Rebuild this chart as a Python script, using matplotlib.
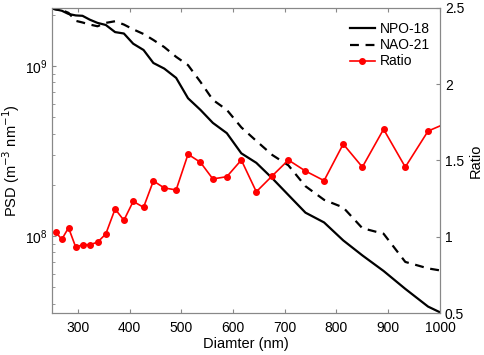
import matplotlib
matplotlib.use("Agg")
import matplotlib.pyplot as plt

plt.rcParams["font.family"] = ["Liberation Sans", "DejaVu Sans"]

# particle diameter bins (nm)
diameter = [245.5, 257, 269, 282, 296, 309, 323, 338, 354, 372, 389, 407, 427, 446,
            467, 490, 513, 537, 561, 588, 616, 645, 676, 707, 740, 776, 813, 850,
            891, 933, 977, 1023]

npo18 = [2.19e9, 2.15e9, 2.11e9, 2.02e9, 1.98e9, 1.97e9, 1.87e9, 1.79e9, 1.74e9,
         1.58e9, 1.55e9, 1.35e9, 1.24e9, 1.04e9, 9.64e8, 8.50e8, 6.45e8, 5.51e8,
         4.62e8, 4.02e8, 3.06e8, 2.69e8, 2.18e8, 1.74e8, 1.37e8, 1.20e8, 9.41e7,
         7.68e7, 6.22e7, 4.88e7, 3.84e7, 3.29e7]

nao21 = [2.19e9, 2.15e9, 2.13e9, 2.05e9, 1.84e9, 1.80e9, 1.75e9, 1.71e9, 1.79e9,
         1.83e9, 1.75e9, 1.64e9, 1.54e9, 1.42e9, 1.29e9, 1.13e9, 1.01e9, 8.05e8,
         6.31e8, 5.51e8, 4.35e8, 3.62e8, 2.99e8, 2.60e8, 1.96e8, 1.63e8, 1.47e8,
         1.11e8, 1.03e8, 7.03e7, 6.44e7, 6.10e7]

ratio_d = diameter[1:]
ratio = [1.031, 0.983, 1.059, 0.931, 0.948, 0.948, 0.964, 1.018, 1.182, 1.108,
         1.232, 1.193, 1.366, 1.320, 1.307, 1.541, 1.488, 1.379, 1.394, 1.503,
         1.295, 1.400, 1.503, 1.431, 1.368, 1.608, 1.457, 1.705, 1.457, 1.693, 1.76]

fig = plt.figure(figsize=(4.84, 3.55), dpi=100)
ax = fig.add_axes([0.1074, 0.1183, 0.8016, 0.8592])
ax2 = ax.twinx()

l1, = ax.plot(diameter, npo18, color="black", linewidth=1.6, label="NPO-18")
l2, = ax.plot(diameter, nao21, color="black", linewidth=1.6, linestyle=(0, (4, 3)),
              label="NAO-21")
l3, = ax2.plot(ratio_d, ratio, color="red", linewidth=1.2, marker="o", markersize=4,
               label="Ratio")

ax.set_yscale("log")
ax.set_xlim(250, 1000)
ax.set_ylim(3.52e7, 2.19e9)
ax2.set_ylim(0.5, 2.5)
ax2.set_yticks([0.5, 1, 1.5, 2, 2.5])
ax2.set_yticklabels(["0.5", "1", "1.5", "2", "2.5"])
ax.set_xticks([300, 400, 500, 600, 700, 800, 900, 1000])

for a in (ax, ax2):
    a.tick_params(direction="in", which="both", labelsize=10, color="#888888",
                  length=3)
    a.tick_params(which="minor", length=2)
    for s in a.spines.values():
        s.set_color("#888888")
        s.set_linewidth(0.8)
ax.tick_params(top=True, which="both")
ax.tick_params(axis="x", pad=6)

ax.set_xlabel("Diamter (nm)", fontsize=10.5, labelpad=1)
ax.set_ylabel("PSD (m$^{-3}$ nm$^{-1}$)", fontsize=10.5, labelpad=2)
ax2.set_ylabel("Ratio", fontsize=10.5, labelpad=3)

ax2.legend(handles=[l1, l2, l3], loc="upper right", frameon=False, fontsize=10,
           handlelength=1.8, handletextpad=0.4, labelspacing=0.15,
           bbox_to_anchor=(1.0, 0.985), borderaxespad=0.3)

fig.savefig("out.png", dpi=100)
